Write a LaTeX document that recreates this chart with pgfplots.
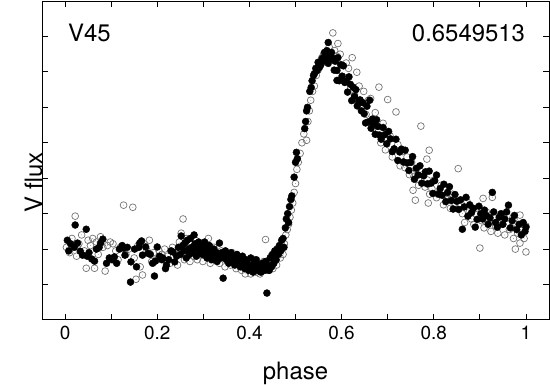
\documentclass[border=0pt]{standalone}
\usepackage{fontspec}
\setmainfont{TeX Gyre Heros}
\usepackage{pgfplots}
\pgfplotsset{compat=1.18}

% open circle with a small dot in the middle
\pgfdeclareplotmark{odot}{%
  \pgfpathcircle{\pgfpointorigin}{\pgfplotmarksize}\pgfusepathqstroke
  \pgfpathcircle{\pgfpointorigin}{0.35pt}\pgfusepathqfill}

\begin{document}
\begin{tikzpicture}
\begin{axis}[
  name=ax,
  scale only axis,
  width=507bp, height=319bp,
  xmin=-0.05, xmax=1.05,
  ymin=0, ymax=9,
  xtick={0,0.2,0.4,0.6,0.8,1},
  minor xtick={0.1,0.3,0.5,0.7,0.9},
  ytick={1,2,3,4,5,6,7,8},
  yticklabels={},
  tick pos=both,
  tick align=inside,
  major tick length=6bp,
  minor tick length=6bp,
  axis line style={line width=1bp},
  every tick/.style={black, line width=0.8bp},
  /pgf/number format/assume math mode=true,
  xticklabel style={font=\fontsize{19}{22}\selectfont, anchor=base, yshift=-20bp},
  every axis x label/.style={at={(axis description cs:0.5,0)}, anchor=base, yshift=-60bp, font=\fontsize{24}{28}\selectfont},
  every axis y label/.style={at={(axis description cs:0,0.5)}, rotate=90, anchor=base, xshift=-22bp, font=\fontsize{24}{28}\selectfont},
  xlabel={phase},
  ylabel={V flux},
  clip=false,
]
% open circles
\addplot[only marks, mark=odot, mark size=3.4bp, draw=black!55, fill=black!55, line width=0.7bp] coordinates {
(0.003,2.05)(0.010,1.90)(0.015,2.30)(0.022,2.93)(0.025,1.80)(0.030,2.15)(0.036,2.40)(0.042,1.95)(0.046,1.46)(0.050,2.25)
(0.055,2.10)(0.060,2.30)(0.064,1.46)(0.068,2.20)(0.072,1.85)(0.077,2.35)(0.082,2.05)(0.087,1.38)(0.092,2.10)(0.098,2.20)
(0.104,2.15)(0.110,1.95)(0.115,1.70)(0.120,2.05)(0.127,3.24)(0.132,1.85)(0.138,2.00)(0.147,3.18)(0.150,1.75)(0.154,1.15)
(0.158,2.10)(0.163,1.50)(0.168,1.27)(0.172,2.15)(0.178,1.95)(0.183,2.25)(0.188,1.65)(0.192,1.90)(0.198,1.70)(0.204,1.95)
(0.210,1.85)(0.216,2.00)
(0.222,1.80)(0.228,1.60)(0.233,2.05)(0.238,1.90)(0.244,1.55)(0.248,2.20)(0.252,2.45)(0.256,2.85)(0.259,1.70)(0.263,2.30)
(0.267,1.95)(0.271,1.65)(0.275,2.15)(0.279,1.80)(0.283,2.25)(0.287,1.70)(0.291,2.05)(0.295,1.90)(0.299,1.65)(0.303,2.15)
(0.307,1.80)(0.311,2.30)(0.315,1.60)(0.319,1.95)(0.323,2.05)(0.327,1.70)(0.331,1.85)(0.335,1.60)(0.339,1.95)(0.343,1.75)
(0.347,1.50)(0.351,1.85)(0.355,1.70)(0.359,1.55)(0.363,1.90)(0.367,1.65)(0.371,1.45)(0.375,1.75)(0.379,1.60)(0.383,1.40)
(0.387,1.70)(0.391,1.30)(0.395,1.55)(0.399,1.65)(0.403,1.30)(0.407,1.45)(0.411,1.70)(0.415,1.35)(0.419,1.55)(0.423,1.30)
(0.427,1.50)(0.431,1.65)(0.435,2.27)(0.439,1.40)(0.443,1.55)(0.447,1.80)(0.451,1.45)(0.455,1.70)(0.459,1.55)(0.463,1.90)
(0.467,1.75)(0.470,2.00)(0.473,1.85)(0.476,2.15)(0.479,2.40)(0.482,2.55)(0.485,2.70)(0.488,2.90)(0.491,3.10)(0.494,3.30)
(0.497,3.60)(0.500,3.85)(0.503,4.25)(0.506,4.45)(0.510,4.70)(0.514,5.00)(0.518,5.25)(0.524,5.07)(0.527,5.60)(0.530,5.90)
(0.533,6.20)(0.537,6.45)(0.541,6.60)(0.545,6.90)(0.549,7.05)(0.553,7.25)(0.557,7.40)(0.561,7.50)(0.565,7.35)(0.569,7.55)
(0.573,7.70)(0.577,7.45)(0.581,8.10)(0.585,7.60)(0.589,7.45)
(0.592,7.80)(0.597,7.50)(0.601,7.20)(0.605,6.85)(0.610,7.25)(0.615,7.10)(0.620,6.55)(0.623,7.40)(0.628,6.35)(0.633,6.99)
(0.638,6.60)(0.643,6.15)(0.648,6.45)(0.653,5.80)(0.658,6.20)(0.663,6.25)(0.668,5.40)(0.673,5.85)(0.681,6.57)(0.685,5.00)
(0.690,5.55)(0.695,4.80)(0.700,6.22)(0.705,5.20)(0.710,4.60)(0.718,5.87)(0.722,4.95)(0.727,4.35)(0.732,4.75)(0.737,4.30)
(0.742,4.60)(0.747,4.10)(0.752,4.45)(0.755,3.66)(0.757,4.05)(0.760,3.38)(0.762,4.25)(0.767,3.80)(0.772,5.47)(0.776,4.10)
(0.781,3.75)(0.785,4.54)(0.786,3.95)(0.788,3.30)(0.790,4.79)(0.791,3.55)(0.796,3.70)(0.801,3.95)(0.806,3.45)(0.811,3.60)
(0.816,3.80)(0.821,3.25)(0.826,3.50)(0.831,3.40)(0.836,3.15)(0.841,3.55)(0.846,3.30)(0.853,4.27)(0.857,3.20)(0.862,3.00)
(0.867,2.75)(0.872,3.35)(0.877,3.05)(0.882,2.85)(0.887,2.70)(0.892,3.15)(0.900,2.03)(0.904,2.80)(0.907,3.43)(0.909,2.60)
(0.914,3.05)(0.919,2.75)(0.924,2.50)(0.927,3.46)(0.929,2.90)(0.934,2.65)(0.939,2.45)(0.944,2.85)(0.949,2.70)(0.954,2.40)
(0.959,2.95)(0.964,2.55)(0.969,2.60)(0.973,2.30)(0.974,2.85)(0.977,2.00)(0.982,2.45)(0.987,2.96)(0.987,2.17)(0.992,2.70)
(0.996,2.30)(1.000,1.92)(1.000,2.65)
};
% filled circles
\addplot[only marks, mark=*, mark size=3.5bp, black] coordinates {
(0.005,2.25)(0.008,1.95)(0.012,2.15)(0.020,2.05)(0.022,2.68)(0.027,2.17)(0.033,1.94)(0.038,1.83)(0.046,2.56)(0.048,1.80)
(0.052,1.90)(0.058,1.72)(0.064,1.66)(0.068,2.00)(0.074,2.05)(0.077,2.17)(0.082,2.28)(0.090,1.60)(0.096,1.75)(0.102,1.70)
(0.107,1.78)(0.112,1.60)(0.118,2.00)(0.124,2.10)(0.127,2.03)(0.130,1.83)(0.135,2.05)(0.142,1.07)(0.143,1.64)(0.151,2.00)
(0.155,1.50)(0.160,2.05)(0.162,2.17)(0.166,2.23)(0.168,1.83)(0.175,2.06)(0.180,1.88)(0.185,1.85)(0.190,1.60)(0.194,1.24)
(0.196,1.66)(0.200,2.06)(0.205,1.80)(0.210,1.70)(0.212,1.75)(0.218,1.45)(0.220,1.55)
(0.225,1.70)(0.230,1.95)(0.234,1.92)(0.238,1.64)(0.242,1.80)(0.246,2.05)(0.250,1.85)(0.252,2.37)(0.255,2.10)(0.258,1.95)
(0.260,2.17)(0.263,1.75)(0.265,2.25)(0.268,2.00)(0.270,1.85)(0.272,2.30)(0.275,2.05)(0.277,1.90)(0.280,2.40)(0.282,2.15)
(0.285,1.80)(0.287,2.00)(0.290,2.20)(0.292,1.95)(0.295,2.10)(0.298,1.85)(0.300,2.05)(0.303,2.20)(0.305,1.90)(0.308,1.75)
(0.310,2.00)(0.313,2.10)(0.315,1.85)(0.318,1.70)(0.320,1.95)(0.323,2.00)(0.325,1.80)(0.328,1.90)(0.330,1.65)(0.333,1.85)
(0.335,2.17)(0.338,1.75)(0.340,1.90)(0.343,1.18)(0.345,1.80)(0.348,1.95)(0.350,1.70)(0.353,1.85)(0.355,1.60)(0.358,1.75)
(0.360,1.90)(0.363,1.65)(0.365,1.80)(0.368,1.55)(0.370,1.70)(0.373,1.85)(0.375,1.60)(0.378,1.75)(0.380,1.50)(0.383,1.65)
(0.385,1.80)(0.388,1.55)(0.390,1.45)(0.393,1.70)(0.395,1.60)(0.398,1.40)(0.400,1.55)(0.403,1.75)(0.405,1.50)(0.408,1.35)
(0.410,1.60)(0.413,1.45)(0.415,1.70)(0.418,1.40)(0.420,1.55)(0.423,1.50)(0.425,1.35)(0.428,1.60)(0.430,1.45)(0.433,1.40)
(0.435,1.65)(0.438,0.76)(0.440,1.55)(0.443,1.40)(0.445,1.75)(0.448,1.50)(0.450,1.85)(0.453,1.60)(0.455,1.95)(0.458,1.70)
(0.460,2.00)(0.463,1.85)
(0.465,2.10)(0.468,1.95)(0.470,2.25)(0.473,2.30)(0.475,2.05)(0.478,2.60)(0.480,2.85)(0.483,3.00)(0.485,2.75)(0.487,3.20)
(0.490,3.40)(0.492,3.50)(0.497,4.03)(0.500,4.45)(0.502,4.73)(0.504,4.55)(0.520,5.40)(0.522,5.60)(0.524,5.90)(0.526,6.00)
(0.531,6.45)(0.534,6.56)(0.536,6.75)(0.539,6.90)(0.541,6.95)(0.544,7.10)(0.547,7.04)(0.549,7.27)(0.552,7.13)(0.555,7.20)
(0.558,7.38)(0.560,7.30)(0.563,7.55)(0.566,7.40)(0.568,7.60)(0.571,7.83)(0.571,7.24)(0.573,7.50)(0.576,7.35)(0.578,7.55)
(0.582,7.38)(0.584,7.05)(0.586,7.30)(0.590,7.04)(0.590,6.76)
(0.592,7.40)(0.595,6.75)(0.598,7.20)(0.601,6.88)(0.604,7.17)(0.607,6.70)(0.610,6.74)(0.613,6.43)(0.616,6.86)(0.619,6.65)
(0.622,6.19)(0.625,6.57)(0.628,6.31)(0.631,6.50)(0.634,6.04)(0.637,6.17)(0.640,6.21)(0.643,5.90)(0.646,6.13)(0.649,5.82)
(0.652,5.56)(0.655,6.03)(0.658,5.59)(0.661,6.20)(0.664,5.41)(0.667,5.67)(0.670,5.53)(0.673,5.24)(0.676,5.65)(0.679,5.46)
(0.682,5.22)(0.686,5.10)(0.690,5.43)(0.694,5.23)(0.698,4.97)(0.702,5.32)(0.706,5.11)(0.710,4.75)(0.714,4.83)(0.718,5.10)
(0.722,4.50)(0.726,4.74)(0.730,4.82)(0.734,4.46)(0.738,4.79)(0.742,4.43)(0.746,4.22)(0.750,4.45)(0.754,4.61)(0.758,3.97)
(0.762,4.28)(0.766,4.09)(0.770,4.35)(0.774,3.86)(0.778,4.07)(0.782,4.18)(0.786,3.84)(0.790,4.20)(0.794,3.86)(0.798,3.57)
(0.802,3.93)(0.806,4.09)(0.810,3.55)(0.814,3.71)(0.818,3.52)(0.822,3.83)(0.826,3.34)(0.830,3.60)(0.834,3.76)(0.838,3.37)
(0.842,3.13)(0.846,3.54)(0.850,3.35)(0.854,3.12)(0.858,3.39)(0.862,2.56)(0.866,3.19)(0.870,3.46)(0.874,2.93)(0.878,3.25)
(0.882,3.03)(0.886,3.15)(0.890,2.62)(0.894,2.84)(0.898,3.21)(0.902,3.00)(0.906,2.85)(0.910,3.10)(0.914,2.95)(0.918,2.70)
(0.922,2.88)(0.927,3.60)(0.930,3.05)(0.934,2.75)(0.938,2.62)(0.942,2.90)(0.946,3.00)(0.950,2.70)(0.954,2.85)(0.958,3.05)
(0.962,3.24)(0.966,2.60)(0.970,2.80)(0.975,2.95)(0.980,2.55)(0.985,2.70)(0.990,2.40)(0.994,2.75)(0.998,2.50)(1.000,2.62)
};
\node[anchor=base west, inner sep=0pt, font=\fontsize{24}{28}\selectfont] at (rel axis cs:0.051,0.872) {V45};
\node[anchor=base east, inner sep=0pt, font=\fontsize{24}{28}\selectfont] at (rel axis cs:0.953,0.872) {0.6549513};
\end{axis}
\pgfresetboundingbox
\path ([shift={(-42bp,-65bp)}]ax.south west) rectangle ([shift={(1bp,1bp)}]ax.north east);
\end{tikzpicture}
\end{document}
